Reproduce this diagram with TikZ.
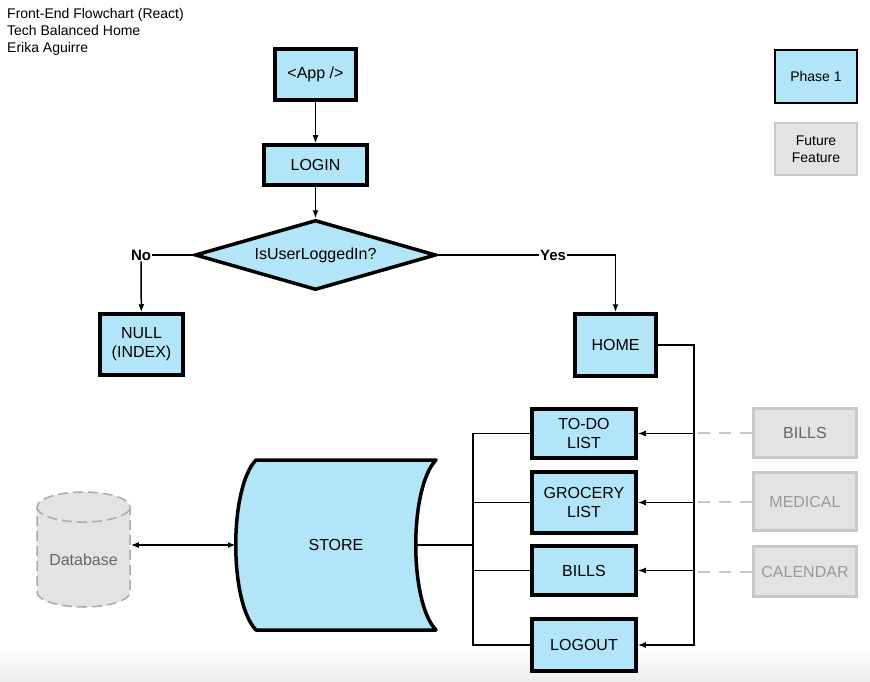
\documentclass[tikz,border=0pt]{standalone}
\usepackage{fontspec}
\setmainfont{Liberation Sans}
\usetikzlibrary{shapes.geometric,arrows.meta}

\definecolor{phaseblue}{RGB}{179,229,248}
\definecolor{futurefill}{RGB}{227,227,227}
\definecolor{futureline}{RGB}{200,200,200}
\definecolor{dbline}{RGB}{170,170,170}

\begin{document}
\begin{tikzpicture}[x=1pt,y=-1pt,
  phase/.style={draw, line width=3.5pt, fill=phaseblue, align=center, inner sep=0pt,
    font=\fontsize{16}{19}\selectfont},
  future/.style={draw=futureline, line width=3pt, fill=futurefill, align=center, inner sep=0pt,
    text=black!40, font=\fontsize{16}{19}\selectfont},
  legend/.style={draw, line width=2pt, align=center, inner sep=0pt,
    minimum width=82, font=\fontsize{14}{17}\selectfont},
  conn/.style={line width=1.5pt},
  arr/.style={conn, -{Latex[length=8pt,width=6pt]}},
  dashconn/.style={draw=futureline, line width=2pt, dash pattern=on 12pt off 9pt},
  answer/.style={font=\bfseries\fontsize{15}{18}\selectfont, inner sep=1pt}]
  \useasboundingbox (0,0) rectangle (870,682);
  \shade[top color=white, bottom color=black!7] (0,645) rectangle (870,682);

  % Title
  \node[anchor=north west, align=left, inner sep=0pt, font=\fontsize{14}{17}\selectfont]
    (title) at (7,8) {Front-End Flowchart (React)\\Tech Balanced Home\\Erika Aguirre};

  % Legend
  \node[legend, fill=phaseblue, minimum height=53] (legphase) at (816,76.5) {Phase 1};
  \node[legend, draw=futureline, fill=futurefill, minimum height=52] (legfuture) at (816,149) {Future\\Feature};

  % Main flow
  \node[phase, minimum width=81, minimum height=51] (app) at (315.5,74.5) {<App />};
  \node[phase, minimum width=103, minimum height=40] (login) at (315.5,165) {LOGIN};
  \node[phase, diamond, aspect=3.3, minimum width=241, minimum height=70] (check) at (315.5,255) {IsUserLoggedIn?};
  \node[phase, minimum width=83, minimum height=61] (null) at (141.5,344.5) {NULL\\(INDEX)};
  \node[phase, minimum width=81, minimum height=62] (home) at (615.5,345) {HOME};

  \node[answer] (no) at (141,255) {No};
  \node[answer] (yes) at (553,255) {Yes};

  \draw[arr] (app) -- (login);
  \draw[arr] (login) -- (check);
  \draw[conn] (check.west) -- (no);
  \draw[arr] (no) -- (null);
  \draw[conn] (check.east) -- (yes);
  \draw[arr] (yes) -| (home.north);

  % Pages
  \node[phase, minimum width=104, minimum height=49] (todo) at (584,433.5) {TO-DO\\LIST};
  \node[phase, minimum width=104, minimum height=61] (grocery) at (584,502.5) {GROCERY\\LIST};
  \node[phase, minimum width=104, minimum height=49] (bills) at (584,570.5) {BILLS};
  \node[phase, minimum width=104, minimum height=52] (logout) at (584,645) {LOGOUT};

  \coordinate (busR) at (694,345);
  \draw[arr] (home.east) -- (busR) -- (busR |- logout.east) -- (logout.east);
  \draw[arr] (busR |- todo.east) -- (todo.east);
  \draw[arr] (busR |- grocery.east) -- (grocery.east);
  \draw[arr] (busR |- bills.east) -- (bills.east);

  % Future features
  \node[future, minimum width=103, minimum height=49, text=black!60] (fbills) at (805,433) {BILLS};
  \node[future, minimum width=103, minimum height=58] (fmedical) at (805,501.5) {MEDICAL};
  \node[future, minimum width=103, minimum height=50] (fcalendar) at (805,571.5) {CALENDAR};

  \draw[dashconn] (fbills.west) -- (fbills.west -| busR);
  \draw[dashconn] (fmedical.west) -- (fmedical.west -| busR);
  \draw[dashconn] (fcalendar.west) -- (fcalendar.west -| busR);

  % Store
  \draw[line width=3.5pt, fill=phaseblue, line join=round]
    (256,460) -- (436,460) .. controls (409,488) and (409,602) .. (436,630)
    -- (256,630) .. controls (229,602) and (229,488) .. (256,460) -- cycle;
  \node[minimum width=200, minimum height=170, inner sep=0pt, font=\fontsize{16}{19}\selectfont]
    (store) at (336,545) {STORE};
  \coordinate (storeout) at (417,545);
  \coordinate (busL) at (473,545);

  \draw[conn] (todo.west) -| (busL) |- (logout.west);
  \draw[conn] (grocery.west) -- (grocery.west -| busL);
  \draw[conn] (bills.west) -- (bills.west -| busL);
  \draw[conn] (storeout) -- (busL);

  % Database
  \node[cylinder, shape border rotate=90, aspect=0.4, minimum height=115, minimum width=93,
    anchor=shape center, draw=dbline, line width=1.5pt, dash pattern=on 10pt off 5pt, fill=futurefill,
    text=black!60, font=\fontsize{16}{19}\selectfont] (db) at (83.5,549.5) {Database};
  \draw[conn, {Latex[length=8pt,width=6pt]}-{Latex[length=8pt,width=6pt]}] (db.east |- store.west) -- (store.west);
\end{tikzpicture}
\end{document}
